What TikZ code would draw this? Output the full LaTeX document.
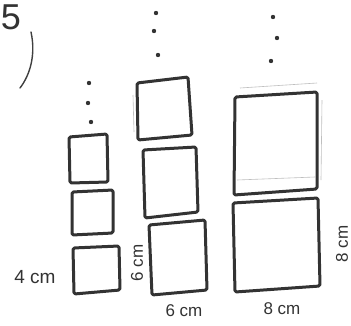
\documentclass[tikz,border=0pt]{standalone}
\usepackage{fontspec}
\setmainfont{Liberation Sans}
\begin{document}
\begin{tikzpicture}[x=1pt,y=-1pt,
  boxline/.style={draw=black!80, line width=3pt, line join=round, rounded corners=1.5pt},
  faint/.style={draw=black!25, line width=0.6pt},
  dotmark/.style={fill=black!80},
  label/.style={inner sep=0pt, text=black!80, font=\fontsize{17}{17}\selectfont}]
\fill[white] (0,0) rectangle (351,325);
\useasboundingbox (0,0) rectangle (351,325);

% problem number
\node[inner sep=0pt, text=black!80, font=\fontsize{36}{36}\selectfont] (num) at (11,17) {5};
\draw[black!75, line width=1.4pt, line cap=round] (31,32) .. controls (36,55) and (30,75) .. (20,88);

% left column
\foreach \p in {(89,83),(88,103),(91,122)} \fill[dotmark] \p circle (2.2pt);
\draw[boxline] (69,137) -- (107,134) -- (108,182) -- (70,183) -- cycle;
\draw[boxline] (72,192) -- (113,190) -- (113,233) -- (72,235) -- cycle;
\draw[boxline] (73,248) -- (119,246) -- (120,290) -- (74,294) -- cycle;
\node[label, font=\fontsize{19}{19}\selectfont] (l4) at (35,277) {4 cm};

% middle column
\foreach \p in {(156,13),(154,31),(158,55)} \fill[dotmark] \p circle (2.2pt);
\draw[faint] (133,95) -- (134,132);
\draw[boxline] (137,83) -- (188,77) -- (192,135) -- (138,140) -- cycle;
\draw[boxline] (143,150) -- (196,147) -- (198,212) -- (145,218) -- cycle;
\draw[boxline] (149,225) -- (205,220) -- (207,290) -- (152,295) -- cycle;
\node[label, rotate=90] (m6v) at (137,263) {6 cm};
\node[label] (m6h) at (184,311) {6 cm};

% right column
\foreach \p in {(273,17),(277,38),(271,61)} \fill[dotmark] \p circle (2.2pt);
\draw[faint] (240,88) -- (317,83);
\draw[faint] (322,100) -- (321,180);
\draw[faint] (237,180) -- (315,177);
\draw[boxline] (235,97) -- (317,92) -- (317,189) -- (234,195) -- cycle;
\draw[boxline] (233,203) -- (318,198) -- (320,286) -- (235,292) -- cycle;
\node[label] (r8h) at (282,309) {8 cm};
\node[label, rotate=90] (r8v) at (342,244) {8 cm};
\end{tikzpicture}
\end{document}
